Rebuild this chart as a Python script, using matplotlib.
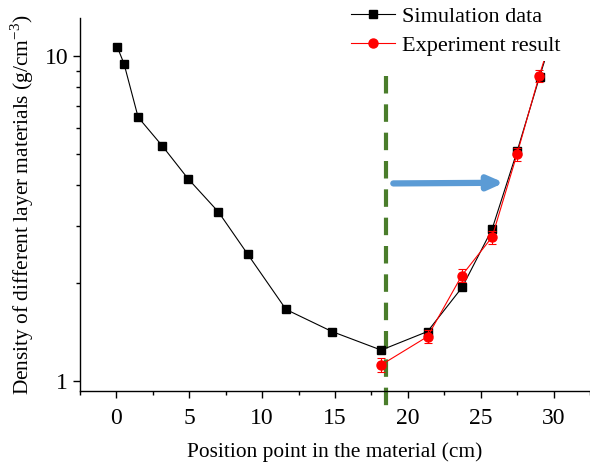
import matplotlib
matplotlib.use("Agg")
import matplotlib.pyplot as plt
import matplotlib.transforms as mtransforms
from matplotlib.ticker import LogLocator, NullFormatter, FixedLocator, MultipleLocator

plt.rcParams['font.family'] = ['Liberation Serif', 'DejaVu Serif']
plt.rcParams['mathtext.fontset'] = 'custom'
plt.rcParams['mathtext.rm'] = 'Liberation Serif'

sim_x = [0.05, 0.52, 1.49, 3.15, 4.91, 7.0, 9.02, 11.64, 14.79, 18.17, 21.35, 23.72, 25.78, 27.5, 29.04, 30.0]
sim_y = [10.66, 9.45, 6.47, 5.28, 4.19, 3.31, 2.45, 1.66, 1.42, 1.245, 1.42, 1.94, 2.93, 5.09, 8.62, 11.8]
exp_x = [18.15, 21.35, 23.7, 25.78, 27.49, 29.01, 30.0]
exp_y = [1.12, 1.37, 2.11, 2.77, 4.98, 8.66, 12.0]
exp_err = [0.055, 0.065, 0.10, 0.13, 0.22, 0.35, 0.4]
boundary_x = 18.47
x_ticks = [0, 5, 10, 15, 20, 25, 30]

fig = plt.figure(figsize=(5.9, 4.65), dpi=100)
ax = fig.add_axes([0.1356, 0.1591, 0.8644, 0.8022])

ns = len(sim_x) - 1
ne = len(exp_x) - 1
ax.plot(sim_x, sim_y, color='black', lw=0.8, marker='s', ms=5.5, markevery=list(range(ns)),
        label='Simulation data', zorder=3)
ax.plot(exp_x, exp_y, color='red', lw=0.8, marker='o', ms=6.5, markevery=list(range(ne)),
        label='Experiment result', zorder=4)
ax.errorbar(exp_x[:ne], exp_y[:ne], yerr=exp_err[:ne], color='red', ls='none',
            capsize=3, elinewidth=0.8, capthick=0.8, zorder=4)

ax.set_yscale('log')
ax.set_xlim(-2.5, 32.5)
ax.set_ylim(0.932, 13.06)
ax.xaxis.set_major_locator(FixedLocator(x_ticks))
ax.xaxis.set_minor_locator(MultipleLocator(2.5))
ax.yaxis.set_major_locator(FixedLocator([1, 10]))
ax.yaxis.set_minor_locator(LogLocator(base=10, subs=range(2, 10)))
ax.yaxis.set_minor_formatter(NullFormatter())
ax.set_yticklabels(['1', '10'])

for s in ['top', 'right']:
    ax.spines[s].set_visible(False)
for s in ['left', 'bottom']:
    ax.spines[s].set_linewidth(1.0)
ax.tick_params(which='major', direction='out', length=5, width=1, labelsize=17)
ax.tick_params(axis='x', which='major', pad=7)
ax.tick_params(which='minor', direction='out', length=3, width=1)

ax.set_xlabel('Position point in the material (cm)', fontsize=15.4, labelpad=10)
ax.set_ylabel('Density of different layer materials (g/cm$^{\\mathregular{-3}}$)', fontsize=15.4, labelpad=6)

# boundary dashed line (drawn top to bottom so the pattern starts at the top)
trans = mtransforms.blended_transform_factory(ax.transData, ax.transAxes)
ax.plot([boundary_x, boundary_x], [0.845, -0.064], transform=trans, color='#4a7d2b', lw=3,
        ls=(0, (4.2, 2.6)), clip_on=False, zorder=2)

# arrow
ax.annotate('', xy=(26.6, 4.07), xytext=(19.0, 4.05),
            arrowprops=dict(arrowstyle='-|>,head_width=0.4,head_length=0.9', color='#5b9bd5', lw=4.5,
                            shrinkA=0, shrinkB=0), zorder=5)

leg = ax.legend(loc='upper right', bbox_to_anchor=(0.975, 1.075), fontsize=16, frameon=True,
                handlelength=2.0, handletextpad=0.3, borderpad=0.25, labelspacing=0.35)
leg.get_frame().set_edgecolor('none')
leg.get_frame().set_facecolor('white')
leg.get_frame().set_alpha(1)
leg.set_zorder(10)

fig.savefig('out.png', dpi=100)
